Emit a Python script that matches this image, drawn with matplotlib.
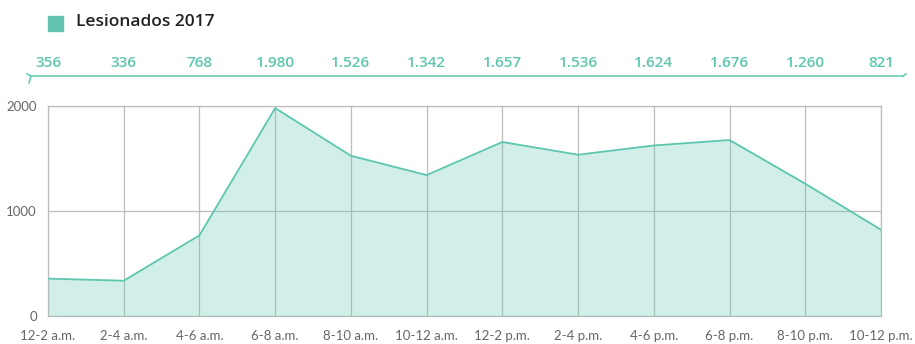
import matplotlib.pyplot as plt
from matplotlib.lines import Line2D
from matplotlib.patches import Rectangle

franjas = ["12-2 a.m.", "2-4 a.m.", "4-6 a.m.", "6-8 a.m.", "8-10 a.m.", "10-12 a.m.",
           "12-2 p.m.", "2-4 p.m.", "4-6 p.m.", "6-8 p.m.", "8-10 p.m.", "10-12 p.m."]
lesionados = [356, 336, 768, 1980, 1526, 1342, 1657, 1536, 1624, 1676, 1260, 821]
yticks = [0, 1000, 2000]

teal = "#5cc6ae"
gris = "#bdbdbd"
plt.rcParams['font.family'] = ['Lato', 'DejaVu Sans']

fig = plt.figure(figsize=(9.15, 3.44), dpi=100)
ax = fig.add_axes([48 / 915, 28 / 344, 833 / 915, 210 / 344])

x = list(range(len(franjas)))
ax.fill_between(x, lesionados, 0, color=teal, alpha=0.28, lw=0, zorder=3)
ax.plot(x, lesionados, color=teal, lw=1.3, zorder=4)

ax.set_xlim(0, len(franjas) - 1)
ax.set_ylim(0, 2000)
ax.set_xticks(x)
ax.set_xticklabels(franjas, fontsize=9.5, color="#666666")
ax.set_yticks(yticks)
ax.set_yticklabels([str(v) for v in yticks], fontsize=9.5, color="#666666")
ax.tick_params(axis="y", length=0, pad=8)
ax.tick_params(axis="x", length=0, pad=10)
ax.grid(True, color=gris, lw=0.9, zorder=1)
for s in ax.spines.values():
    s.set_color(gris)
    s.set_linewidth(0.9)
    s.set_zorder(2)

# numeros encima de cada franja
for xi, v in zip(x, lesionados):
    txt = f"{v:,}".replace(",", ".")
    ax.annotate(txt, (xi, 1), xycoords=("data", "axes fraction"),
                xytext=(0, 31), textcoords="offset points",
                ha="center", va="center", fontsize=11, fontweight="semibold",
                color=teal, family=["Open Sans", "DejaVu Sans"])

# llave bajo los numeros
y_br = 1 - 76 / 344
fig.add_artist(Line2D([31 / 915, 903 / 915], [y_br, y_br], color=teal, lw=1.1))
fig.add_artist(Line2D([27 / 915, 31 / 915, 29 / 915], [y_br + 0.006, y_br, y_br - 0.02],
                      color=teal, lw=1.1))
fig.add_artist(Line2D([903 / 915, 906 / 915], [y_br, y_br + 0.006], color=teal, lw=1.1))

# leyenda
fig.add_artist(Rectangle((48 / 915, 1 - 31 / 344), 15 / 915, 15 / 344,
                         color="#63c5af", transform=fig.transFigure))
fig.text(76 / 915, 1 - 22 / 344, "Lesionados 2017", fontsize=12.5, fontweight="semibold",
         color="#222222", va="center", ha="left", family=["Open Sans", "DejaVu Sans"])

fig.savefig("out.png", dpi=100)
